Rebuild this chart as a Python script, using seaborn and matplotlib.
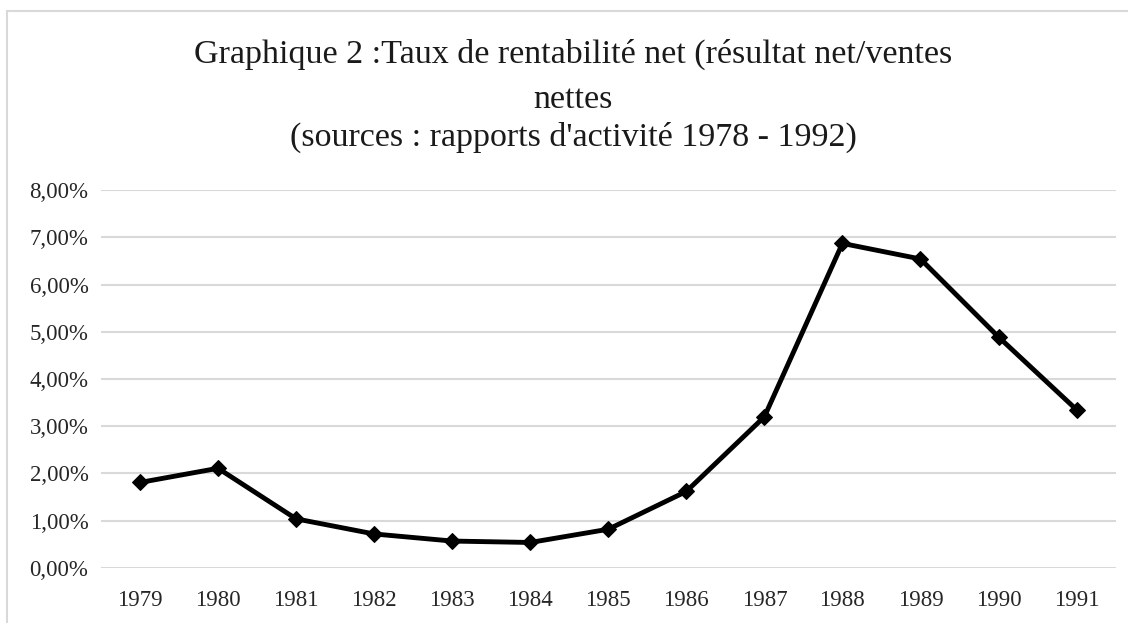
import matplotlib
matplotlib.use("Agg")
import pandas as pd
import seaborn as sns
import matplotlib.pyplot as plt
from matplotlib.patches import Rectangle
from matplotlib.ticker import FuncFormatter

years = ['1979', '1980', '1981', '1982', '1983', '1984', '1985',
         '1986', '1987', '1988', '1989', '1990', '1991']
taux_net = [0.0181, 0.0211, 0.0104, 0.0072, 0.0057, 0.0054, 0.0082,
            0.0162, 0.0320, 0.0687, 0.0654, 0.0489, 0.0335]
y_ticks = [0.00, 0.01, 0.02, 0.03, 0.04, 0.05, 0.06, 0.07, 0.08]

title_lines = ["Graphique 2 :Taux de rentabilité net (résultat net/ventes",
               "nettes",
               "(sources : rapports d'activité 1978 - 1992)"]

sns.set_theme(style="white")
plt.rcParams['font.family'] = ['Liberation Serif', 'DejaVu Serif']

df = pd.DataFrame({'annee': years, 'taux': taux_net})

fig = plt.figure(figsize=(11.28, 6.23), dpi=100)
ax = fig.add_axes([0.0895, 0.0883, 0.8995, 0.6067])

sns.lineplot(data=df, x='annee', y='taux', ax=ax, color='black',
             linewidth=3.5, marker='D', markersize=8,
             markeredgecolor='black', markerfacecolor='black')

ax.set_xlim(-0.5, len(years) - 0.5)
ax.set_ylim(0, 0.08)
ax.set_yticks(y_ticks)
ax.yaxis.set_major_formatter(FuncFormatter(lambda v, p: f"{v * 100:.2f}%".replace('.', ',')))
ax.grid(axis='y', color='#d9d9d9', linewidth=1.5)
ax.grid(axis='x', visible=False)
ax.set_axisbelow(True)
for s in ax.spines.values():
    s.set_visible(False)
ax.tick_params(axis='both', length=0, labelsize=16.5, colors='#262626')
ax.tick_params(axis='y', pad=9)
ax.tick_params(axis='x', pad=16)
ax.set_xlabel('')
ax.set_ylabel('')

# chart frame
fig.patches.append(Rectangle((7 / 1128, -0.05), 1.1, (623 - 11) / 623 + 0.05,
                             transform=fig.transFigure, fill=False,
                             edgecolor='#d9d9d9', linewidth=1.5))

fig.text(0.508, 0.912, title_lines[0], ha='center', va='center', fontsize=24.5, color='#1a1a1a')
fig.text(0.508, 0.84, title_lines[1], ha='center', va='center', fontsize=24.5, color='#1a1a1a')
fig.text(0.508, 0.78, title_lines[2], ha='center', va='center', fontsize=24.5, color='#1a1a1a')

fig.savefig('out.png', dpi=100)
